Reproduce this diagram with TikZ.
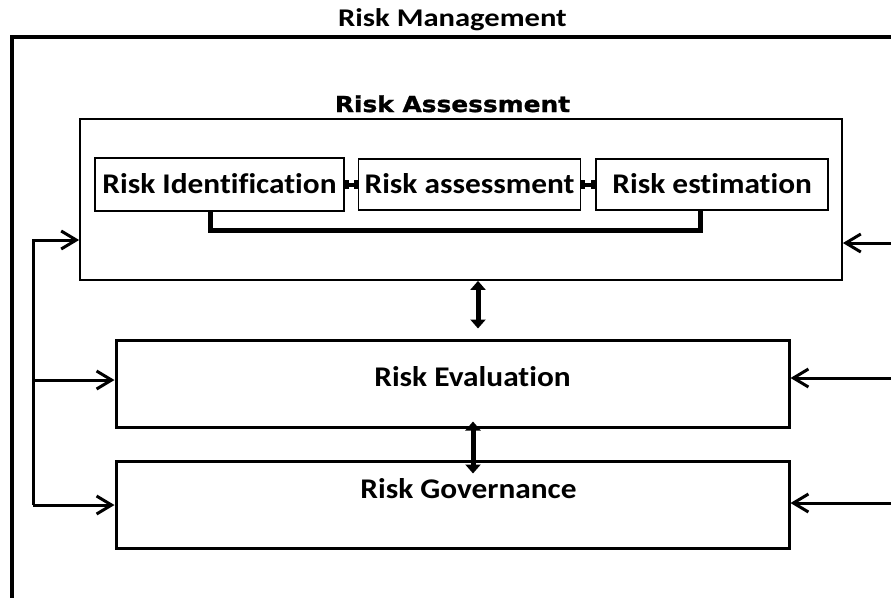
\documentclass[tikz,border=0pt]{standalone}
\usepackage{fontspec}
\usepackage{tikz}
\usetikzlibrary{positioning}
\usetikzlibrary{arrows.meta}
\newfontfamily\boxfont{Carlito}[FakeStretch=1.1,Ligatures=NoCommon]
\newfontfamily\titlefont{Carlito}[FakeStretch=1.2,Ligatures=NoCommon]
\newfontfamily\headfont{DejaVu Sans}[FakeStretch=1.13,FakeBold=1.2]
\tikzset{feed/.style = {-{Straight Barb[length=15pt,width=18pt]}, line width=3pt}}
\tikzset{both/.style = {{Triangle[length=9pt,width=15pt]}-{Triangle[length=9pt,width=15pt]}, line width=5pt}}

\begin{document}
\begin{tikzpicture}[x=1pt,y=-1pt,
    small box/.style={rectangle,draw,line width=1.6pt,inner sep=0pt,text height=18.4pt,text depth=0pt,font=\boxfont\bfseries\fontsize{28.5}{30}\selectfont},
    big box/.style={rectangle,draw,line width=3pt,minimum width=673pt,minimum height=87pt},
    box text/.style={anchor=base,font=\boxfont\bfseries\fontsize{28.5}{30}\selectfont}]
                \useasboundingbox (0,0) rectangle (891,597);
                \node[anchor=base,font=\titlefont\bfseries\fontsize{25.5}{27}\selectfont] (mgmt) at (452.5,27) {Risk Management};
                \draw[line width=3.5pt] (900,37) -- (12,37) -- (12,610);

                \node[anchor=base,font=\headfont\bfseries\fontsize{22}{24}\selectfont] (head) at (452.5,112) {Risk Assessment};
                \node[draw,line width=1.8pt,minimum width=762pt,minimum height=161pt] (assess) at (461,199.5) {};
                \node[small box,minimum width=249pt,minimum height=53pt] (ident) at (219.5,184.5) {Risk Identification};
                \node[small box,minimum width=222pt,minimum height=51pt] (asses) [right=13pt of ident] {Risk assessment};
                \node[small box,minimum width=232pt,minimum height=51pt] (estim) [right=14pt of asses] {Risk estimation};

                \node[big box] (evalbox) at (452.5,383.5) {};
                \node[big box] (govbox) [below=31pt of evalbox] {};
                \node[box text] (evaltext) at (472.5,386) {Risk Evaluation};
                \node[box text] (govtext) at (468.5,498) {Risk Governance};

                \draw[line width=4pt,{Bar[width=9pt]}-{Bar[width=9pt]}] (ident.east) -- (ident.east -| asses.west);
                \draw[line width=4pt,{Bar[width=9pt]}-{Bar[width=9pt]}] (asses.east) -- (asses.east -| estim.west);
                \draw[line width=5pt] ([xshift=-9.5pt]ident.south) -- ++(0,19) -| ([xshift=-12pt]estim.south);

                \draw[both] ([xshift=17pt]assess.south) -- ([xshift=25.5pt,yshift=10pt]evalbox.north);
                \draw[both] ([xshift=20.5pt,yshift=7pt]evalbox.south) -- ([xshift=20.5pt,yshift=-14pt]govbox.north);

                \coordinate (l1) at (33,240);
                \coordinate (l2) at (33,380);
                \coordinate (l3) at (33,505);
                \coordinate (r1) at (891,243);
                \coordinate (r2) at (891,378);
                \coordinate (r3) at (891,503);
                \draw[feed] (l3) -- (l1) -- (l1 -| assess.west);
                \draw[feed] (l2) -- (l2 -| evalbox.west);
                \draw[feed] (l3) -- (l3 -| govbox.west);
                \draw[feed] (r1) -- (r1 -| assess.east);
                \draw[feed] (r2) -- (r2 -| evalbox.east);
                \draw[feed] (r3) -- (r3 -| govbox.east);
            \end{tikzpicture}
\end{document}
